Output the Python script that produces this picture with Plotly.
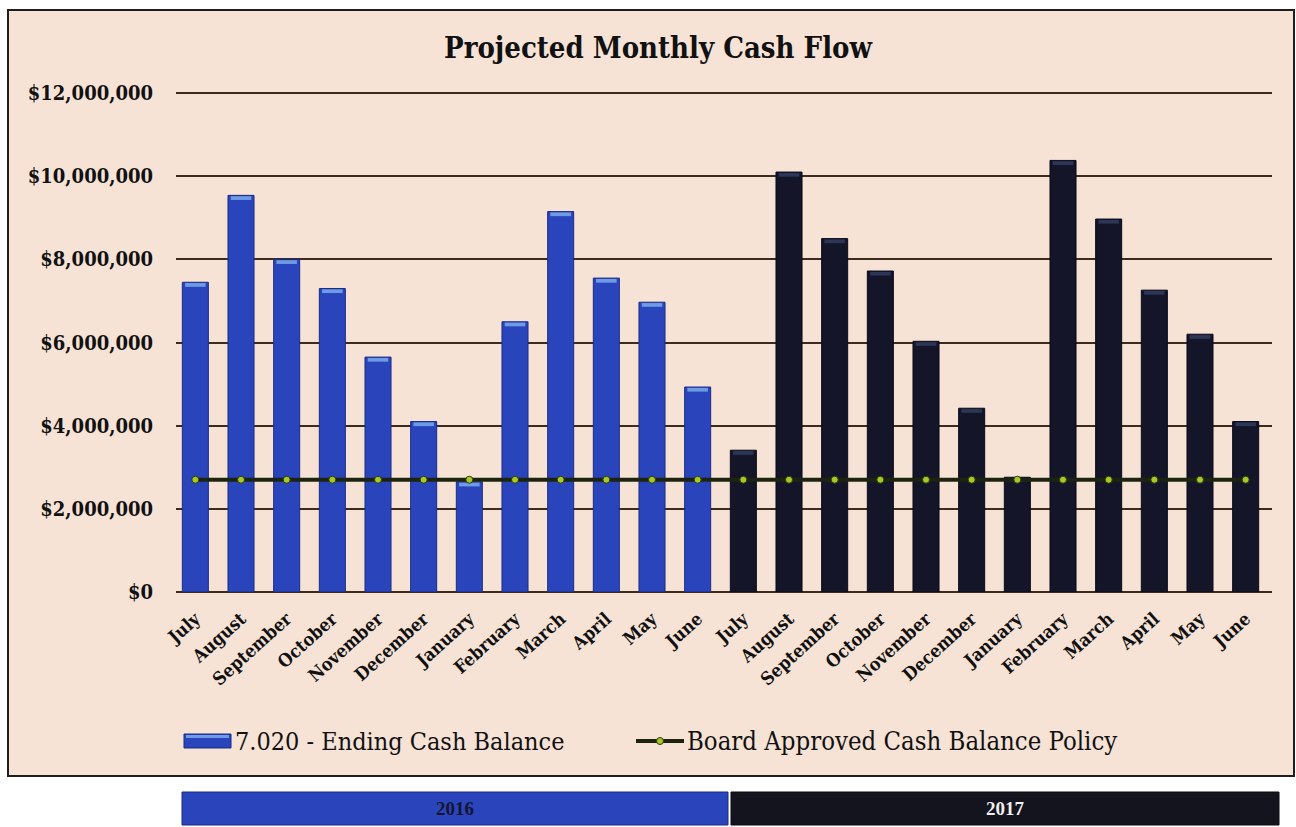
import plotly.graph_objects as go

months = ["July", "August", "September", "October", "November", "December",
          "January", "February", "March", "April", "May", "June"]
categories = months + months
balance_2016 = [7450000, 9540000, 8000000, 7300000, 5650000, 4100000,
                2650000, 6500000, 9150000, 7550000, 6970000, 4930000]
balance_2017 = [3410000, 10100000, 8500000, 7720000, 6030000, 4420000,
                2760000, 10380000, 8970000, 7260000, 6200000, 4100000]
policy = [2700000] * 24
y_ticks = [0, 2000000, 4000000, 6000000, 8000000, 10000000, 12000000]
y_labels = ["$0", "$2,000,000", "$4,000,000", "$6,000,000", "$8,000,000",
            "$10,000,000", "$12,000,000"]
years = ["2016", "2017"]
series_names = ["7.020 - Ending Cash Balance", "Board Approved Cash Balance Policy"]

W, H = 1296, 827
L, R, T, B = 176, 1272, 91, 592
pw, ph = R - L, B - T
YMAX = 12050000
CAP = 90000

def px(x):
    return (x - L) / pw

def py(y):
    return (B - y) / ph

BLUE = "#2a45bc"
DARK = "#15152a"
LINE = "#1c2410"
MARK = "#a8c828"

xs = list(range(24))
values = balance_2016 + balance_2017
colors = [BLUE] * 12 + [DARK] * 12
line_colors = ["#1b2c86"] * 12 + ["#0a0a18"] * 12
cap_colors = ["#6f9be4"] * 12 + ["#2c3656"] * 12

fig = go.Figure()
fig.add_trace(go.Bar(
    x=xs, y=values, name=series_names[0],
    marker=dict(color=colors, line=dict(color=line_colors, width=1)),
    width=0.57, showlegend=False,
))
fig.add_trace(go.Bar(
    x=xs, y=[CAP] * 24, base=[v - CAP - 20000 for v in values],
    marker=dict(color=cap_colors, line=dict(width=0)),
    width=0.45, showlegend=False, hoverinfo="skip",
))
fig.add_trace(go.Scatter(
    x=xs, y=policy, name=series_names[1],
    mode="lines+markers",
    line=dict(color=LINE, width=4),
    marker=dict(symbol="circle", size=7, color=MARK,
                line=dict(color="#2a3a10", width=1)),
    showlegend=False,
))

font_family = "DejaVu Serif Condensed, DejaVu Serif, Liberation Serif"

shapes = [
    dict(type="rect", xref="paper", yref="paper",
         x0=px(8), x1=px(1294), y0=py(776), y1=py(10),
         fillcolor="#f6e3d6", line=dict(color="#1e1e1e", width=2), layer="below"),
    # custom legend symbols
    dict(type="rect", xref="paper", yref="paper",
         x0=px(184), x1=px(231), y0=py(748), y1=py(734),
         fillcolor=BLUE, line=dict(color="#1b2c86", width=1)),
    dict(type="rect", xref="paper", yref="paper",
         x0=px(186), x1=px(229), y0=py(738), y1=py(735),
         fillcolor="#6f9be4", line=dict(width=0)),
    dict(type="line", xref="paper", yref="paper",
         x0=px(636), x1=px(684), y0=py(741), y1=py(741),
         line=dict(color=LINE, width=4)),
    dict(type="circle", xref="paper", yref="paper",
         x0=px(656.5), x1=px(663.5), y0=py(744.5), y1=py(737.5),
         fillcolor=MARK, line=dict(color="#2a3a10", width=1)),
    # year bands
    dict(type="rect", xref="paper", yref="paper",
         x0=px(182), x1=px(728), y0=py(825), y1=py(792),
         fillcolor=BLUE, line=dict(color="#1a2a80", width=1)),
    dict(type="rect", xref="paper", yref="paper",
         x0=px(731), x1=px(1279), y0=py(825), y1=py(792),
         fillcolor="#14141e", line=dict(color="#0a0a10", width=1)),
]

annotations = [
    dict(text=series_names[0], xref="paper", yref="paper",
         x=px(233), y=py(741), xanchor="left", yanchor="middle", showarrow=False,
         font=dict(family=font_family, size=25, color="#111111")),
    dict(text=series_names[1], xref="paper", yref="paper",
         x=px(685), y=py(741), xanchor="left", yanchor="middle", showarrow=False,
         font=dict(family=font_family, size=25.5, color="#111111")),
    dict(text="<b>" + years[0] + "</b>", xref="paper", yref="paper",
         x=px(455), y=py(808), xanchor="center", yanchor="middle", showarrow=False,
         font=dict(family="Liberation Serif", size=19, color="#151530")),
    dict(text="<b>" + years[1] + "</b>", xref="paper", yref="paper",
         x=px(1005), y=py(808), xanchor="center", yanchor="middle", showarrow=False,
         font=dict(family="Liberation Serif", size=19, color="#f0f0f0")),
]

shift = 3.5 / (pw / 24)

fig.update_layout(
    width=W, height=H,
    margin=dict(l=L, r=W - R, t=T, b=H - B),
    paper_bgcolor="white",
    plot_bgcolor="rgba(0,0,0,0)",
    barmode="overlay",
    title=dict(text="<b>Projected Monthly Cash Flow</b>", x=658 / W, y=1 - 48 / H,
               xanchor="center", yanchor="middle",
               font=dict(family=font_family, size=29, color="#111111")),
    font=dict(family=font_family, color="#111111"),
    xaxis=dict(
        tickvals=xs, ticktext=["<b>" + c + "</b>" for c in categories],
        tickangle=-42, tickfont=dict(size=18, family=font_family, color="#111111"),
        range=[-0.5 + shift, 23.5 + shift], showgrid=False, zeroline=False,
        showline=False, ticks="", ticklabelstandoff=12,
    ),
    yaxis=dict(
        tickvals=y_ticks, ticktext=["<b>" + t + "</b>" for t in y_labels],
        range=[0, YMAX], showgrid=True, gridcolor="#3c2c1c", gridwidth=1.5,
        zeroline=True, zerolinecolor="#3c2c1c", zerolinewidth=1.5,
        tickfont=dict(size=20, family=font_family, color="#111111"),
        ticks="", ticklabelstandoff=22, showline=False,
    ),
    showlegend=False,
    shapes=shapes,
    annotations=annotations,
)

fig.write_html("out.html", config={"displayModeBar": False},
               post_script="document.body.style.margin='0';document.body.style.padding='0';")
